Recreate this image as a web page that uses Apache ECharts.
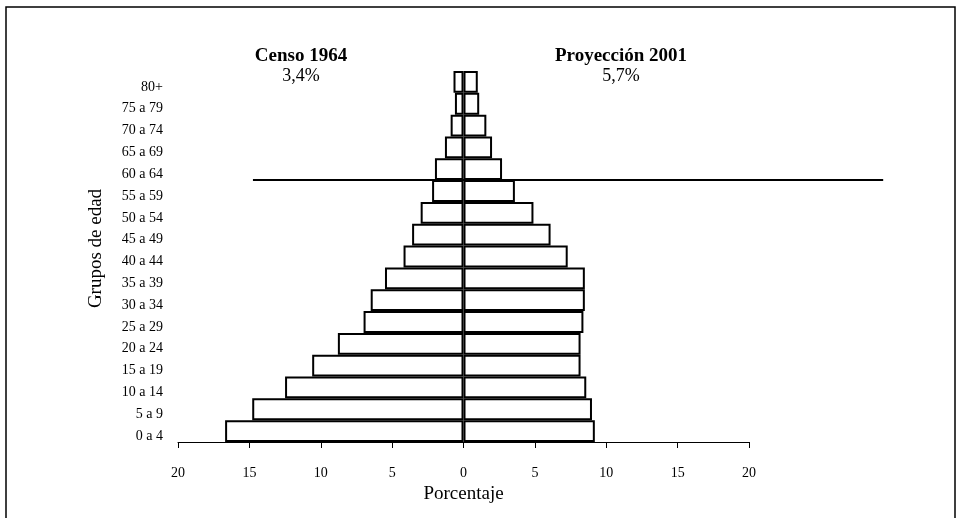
<!DOCTYPE html>
<html>
<head>
<meta charset="utf-8">
<script src="https://cdn.jsdelivr.net/npm/echarts@6/dist/echarts.min.js"></script>
<style>
  html, body { margin: 0; padding: 0; background: #fff; }
  #chart { width: 960px; height: 518px; }
</style>
</head>
<body>
<div id="chart"></div>
<script>
const ageGroups = ['0 a 4', '5 a 9', '10 a 14', '15 a 19', '20 a 24', '25 a 29', '30 a 34', '35 a 39',
  '40 a 44', '45 a 49', '50 a 54', '55 a 59', '60 a 64', '65 a 69', '70 a 74', '75 a 79', '80+'];
const censo1964 = [16.7, 14.8, 12.5, 10.6, 8.8, 7.0, 6.5, 5.5, 4.2, 3.6, 3.0, 2.2, 2.0, 1.3, 0.9, 0.6, 0.7];
const proyeccion2001 = [9.2, 9.0, 8.6, 8.2, 8.2, 8.4, 8.5, 8.5, 7.3, 6.1, 4.9, 3.6, 2.7, 2.0, 1.6, 1.1, 1.0];
const xTicks = { min: -20, max: 20, interval: 5 };
const titles = [
  { name: 'Censo 1964', share: '3,4%' },
  { name: 'Proyección 2001', share: '5,7%' }
];
// line drawn under the 60+ groups, from/to in percent units
const dividerFrom = -14.75;
const dividerTo = 29.4;

const FONT = '"Liberation Serif", "DejaVu Serif", serif';
const chart = echarts.init(document.getElementById('chart'), null, { renderer: 'canvas' });

const barStyle = { color: '#fff', borderColor: '#000', borderWidth: 2 };

chart.setOption({
  animation: false,
  backgroundColor: '#fff',
  textStyle: { fontFamily: FONT, color: '#000' },
  title: [
    { left: 296, top: 42, textAlign: 'center', text: titles[0].name, subtext: titles[0].share, itemGap: 1,
      textStyle: { fontFamily: FONT, fontSize: 19, fontWeight: 'bold', color: '#000' },
      subtextStyle: { fontFamily: FONT, fontSize: 18, color: '#000' } },
    { left: 616, top: 42, textAlign: 'center', text: titles[1].name, subtext: titles[1].share, itemGap: 1,
      textStyle: { fontFamily: FONT, fontSize: 19, fontWeight: 'bold', color: '#000' },
      subtextStyle: { fontFamily: FONT, fontSize: 18, color: '#000' } }
  ],
  grid: { left: 178, right: 211, top: 71, bottom: 76, containLabel: false },
  xAxis: {
    type: 'value',
    min: xTicks.min,
    max: xTicks.max,
    interval: xTicks.interval,
    name: 'Porcentaje',
    nameLocation: 'middle',
    nameGap: 40,
    nameTextStyle: { fontFamily: FONT, fontSize: 19, color: '#000' },
    axisLine: { show: true, lineStyle: { color: '#000', width: 1 } },
    axisTick: { show: true, length: 6, lineStyle: { color: '#000' } },
    axisLabel: { margin: 24, fontFamily: FONT, fontSize: 14, color: '#000',
      formatter: v => String(Math.abs(v)) },
    splitLine: { show: false }
  },
  yAxis: {
    type: 'category',
    data: ageGroups,
    position: 'left',
    name: 'Grupos de edad',
    nameLocation: 'middle',
    nameGap: 72,
    nameTextStyle: { fontFamily: FONT, fontSize: 19, color: '#000', padding: [0, 0, 0, 16] },
    axisLine: { show: false },
    axisTick: { show: false },
    // labels sit a little below the bar centres in the original
    axisLabel: { margin: 15, fontFamily: FONT, fontSize: 14, color: '#000',
      verticalAlign: 'top', lineHeight: 10 },
    splitLine: { show: false }
  },
  series: [
    {
      name: titles[0].name,
      type: 'bar',
      data: censo1964.map(v => -v),
      barCategoryGap: 0,
      barGap: '-100%',
      itemStyle: barStyle
    },
    {
      name: titles[1].name,
      type: 'bar',
      data: proyeccion2001,
      barCategoryGap: 0,
      barGap: '-100%',
      itemStyle: barStyle
    }
  ]
});

// divider between 55 a 59 and 60 a 64, plus the page frame
const yLow = chart.convertToPixel({ gridIndex: 0 }, [0, 11])[1];
const yHigh = chart.convertToPixel({ gridIndex: 0 }, [0, 12])[1];
const yDivider = Math.round((yLow + yHigh) / 2);
const xStart = chart.convertToPixel({ gridIndex: 0 }, [dividerFrom, 0])[0];
const xEnd = chart.convertToPixel({ gridIndex: 0 }, [dividerTo, 0])[0];

chart.setOption({
  graphic: [
    { type: 'line', z: 10, shape: { x1: xStart, y1: yDivider, x2: xEnd, y2: yDivider },
      style: { stroke: '#000', lineWidth: 2 } },
    { type: 'rect', z: 10, shape: { x: 6, y: 7, width: 949, height: 520 },
      style: { fill: null, stroke: '#000', lineWidth: 1.5 } }
  ]
});
</script>
</body>
</html>
